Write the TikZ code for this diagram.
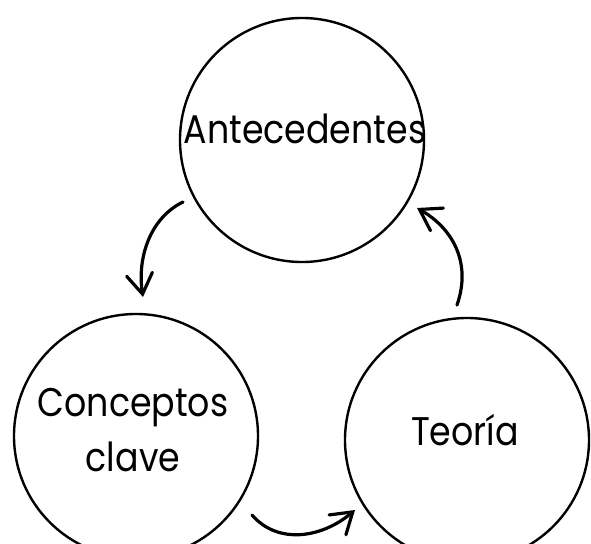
\documentclass[tikz,border=0pt]{standalone}
\usepackage{fontspec}
\setmainfont{Poppins}[FakeStretch=0.87]
\usetikzlibrary{arrows.meta}
\tikzset{
  bubble/.style={circle,draw,line width=2.4pt,minimum size=244pt,inner sep=0pt},
  lbl/.style={font=\fontsize{40}{55}\selectfont,align=center,inner sep=0pt},
  cyc/.style={line width=3.2pt,line cap=round,-{Straight Barb[length=20pt,width=26pt,line width=3.2pt,line cap=round]}}
}
\begin{document}
\begin{tikzpicture}[x=1pt,y=-1pt]
\useasboundingbox (0,0) rectangle (591,543);
\node[bubble] (ante) at (302,140) {};
\node[bubble] (conc) at (136,436) {};
\node[bubble] (teor) at (467,440) {};
\node[lbl] (anteT) at (305,129) {Antecedentes};
\node[lbl] (concT) at (133,430) {Conceptos\\clave};
\node[lbl] (teorT) at (465,430) {Teoría};
\coordinate (a1) at (183,202);
\coordinate (a2) at (143,297);
\coordinate (b1) at (252,515);
\coordinate (b2) at (355,510);
\coordinate (c1) at (457,305);
\coordinate (c2) at (417,208);
\draw[cyc] (a1) .. controls (150,218) and (137,258) .. (a2);
\draw[cyc] (b1) .. controls (278,545) and (322,538) .. (b2);
\draw[cyc] (c1) .. controls (472,262) and (452,228) .. (c2);
\end{tikzpicture}
\end{document}
